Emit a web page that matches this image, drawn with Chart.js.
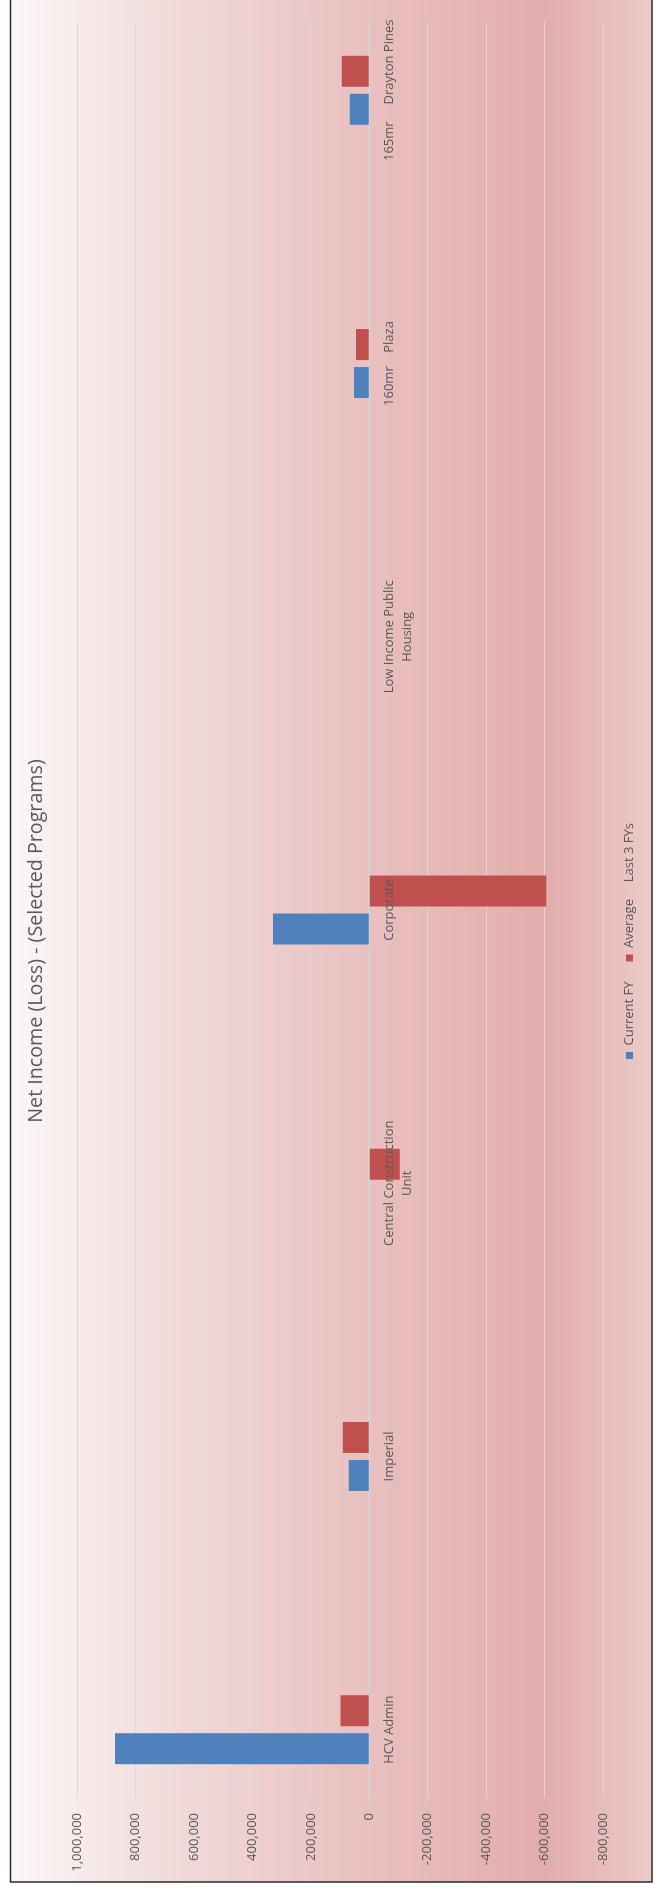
<!DOCTYPE html>
<html>
<head>
<meta charset="utf-8">
<script src="https://cdn.jsdelivr.net/npm/chart.js@4.4.0/dist/chart.umd.min.js"></script>
<style>
	html, body { margin: 0; padding: 0; background: #fff; overflow: hidden; }
	/* the chart is drawn landscape and turned a quarter to the left */
	#cadru {
		position: absolute; left: 0; top: 0;
		width: 1895px; height: 662px;
		transform-origin: 0 0;
		transform: translate(0, 1895px) rotate(-90deg);
	}
	#grafic { display: block; width: 1895px; height: 662px; }
</style>
</head>
<body>
<div id="cadru"><canvas id="grafic" width="1895" height="662"></canvas></div>
<script>
const programe = [
	'HCV Admin',
	'Imperial',
	['Central Construction', 'Unit'],
	'Corporate',
	['Low Income Public', 'Housing'],
	'160mr    Plaza',
	'165mr     Drayton Pines'
];
const anCurent = [871000, 70700, null, 330000, null, 52600, 67400];
const medie3Ani = [99000, 91000, -103600, -606000, null, 46000, 94700];
const valMin = -800000, valMax = 1000000, pasVal = 200000;

const gri = '#595959';

// fundal cu gradient si chenar
const fundal = {
	id: 'fundal',
	beforeDraw(chart) {
		const ctx = chart.ctx;
		const g = ctx.createLinearGradient(0, 10.5, 0, 652);
		g.addColorStop(0, '#fcf7f7');
		g.addColorStop(0.233, '#f2dcdc');
		g.addColorStop(0.56, '#e8c0bf');
		g.addColorStop(0.833, '#e2adac');
		g.addColorStop(1, '#ebcac9');
		ctx.save();
		ctx.fillStyle = g;
		ctx.fillRect(13, 10.5, chart.width, 641.5);
		ctx.strokeStyle = '#2b2b2b';
		ctx.lineWidth = 1.5;
		ctx.strokeRect(13, 10.5, chart.width + 20, 641.5);
		ctx.restore();
	}
};

Chart.defaults.font.family = "'Open Sans', sans-serif";
Chart.defaults.color = gri;

new Chart(document.getElementById('grafic'), {
	type: 'bar',
	data: {
		datasets: [
			{
				label: 'Current FY',
				data: anCurent.map((v, i) => ({ x: i, y: v })),
				backgroundColor: '#4f81bd',
				borderWidth: 0
			},
			{
				label: 'Average     Last 3 FYs',
				data: medie3Ani.map((v, i) => ({ x: i, y: v })),
				backgroundColor: '#c0504d',
				borderWidth: 0
			}
		]
	},
	options: {
		responsive: false,
		animation: false,
		devicePixelRatio: 1,
		categoryPercentage: 0.278,
		barPercentage: 0.816,
		layout: { padding: { left: 13, right: 0, top: 0, bottom: 16 } },
		scales: {
			x: {
				type: 'linear',
				min: -0.25,
				max: 6.25,
				offset: false,
				position: { y: 0 },
				afterBuildTicks: s => { s.ticks = programe.map((_, i) => ({ value: i })); },
				ticks: {
					z: 1, // etichetele peste bare, ca in Excel
					callback: (v, i) => programe[i],
					autoSkip: false,
					maxRotation: 0,
					minRotation: 0,
					padding: 3,
					font: { size: 13, lineHeight: '18px' }
				},
				grid: { display: false },
				border: { display: true, color: '#d3d3d3', width: 2 }
			},
			y: {
				min: valMin,
				max: valMax,
				afterFit: s => { s.width = 84; },
				ticks: {
					stepSize: pasVal,
					padding: 15,
					callback: v => v.toLocaleString('en-US'),
					font: { size: 13 }
				},
				grid: { color: '#d9d9d9', lineWidth: 1, drawTicks: false },
				border: { display: false }
			},
			dreapta: {
				type: 'linear',
				position: 'right',
				afterFit: s => { s.width = 22; },
				ticks: { display: false },
				grid: { display: false, drawTicks: false },
				border: { display: false }
			}
		},
		plugins: {
			title: {
				display: true,
				text: 'Net Income (Loss) - (Selected Programs)',
				font: { size: 19.7, weight: 'normal' },
				color: gri,
				padding: { top: 24.2, bottom: 29.5 }
			},
			legend: {
				position: 'bottom',
				labels: {
					boxWidth: 7,
					boxHeight: 7,
					padding: 20,
					font: { size: 13 },
					color: gri
				}
			},
			tooltip: { enabled: false }
		}
	},
	plugins: [fundal]
});
</script>
</body>
</html>
